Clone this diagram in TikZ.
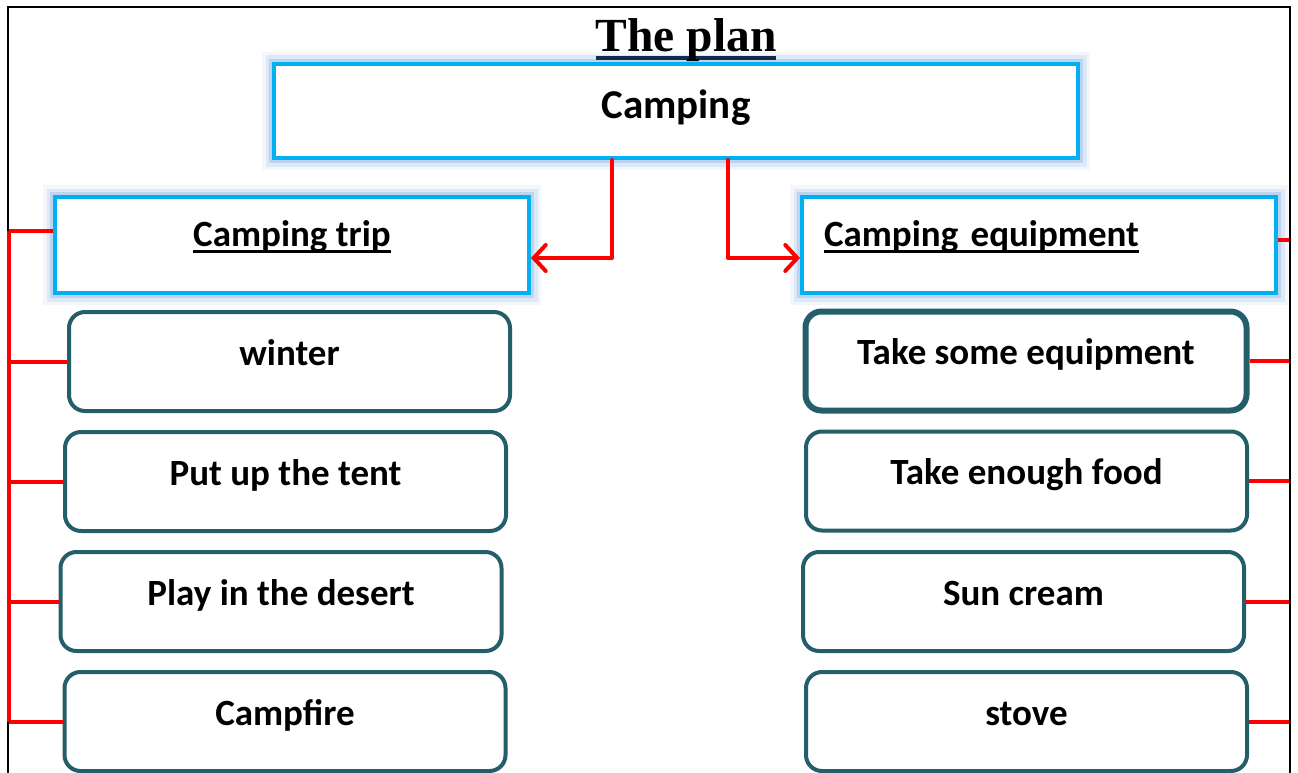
\documentclass[tikz,border=0pt]{standalone}
\usepackage{fontspec}
\setmainfont{Carlito}
\newfontfamily\titlefont{Liberation Serif}
\usetikzlibrary{arrows.meta}
\definecolor{skyline}{HTML}{00B0F0}
\definecolor{glowblue}{HTML}{8EB4E3}
\definecolor{tealline}{HTML}{255E6B}
\definecolor{inkblue}{HTML}{14294D}
\newsavebox{\linedbox}
\newcommand{\headline}[1]{\sbox{\linedbox}{#1}\rlap{\rule[-6.5pt]{\wd\linedbox}{3pt}}\usebox{\linedbox}}
\newcommand{\titleline}[1]{\sbox{\linedbox}{#1}\rlap{\textcolor{inkblue}{\rule[-8pt]{\wd\linedbox}{4pt}}}\usebox{\linedbox}}
\tikzset{
  topicbox/.style={draw=skyline,line width=4pt,fill=white,
    preaction={draw=glowblue,line width=24pt,opacity=0.1},
    preaction={draw=glowblue,line width=17pt,opacity=0.2},
    preaction={draw=glowblue,line width=10pt,opacity=0.4},
    font=\bfseries\fontsize{37}{44}\selectfont,text height=28pt,text depth=26pt},
  leafbox/.style={draw=tealline,line width=4pt,fill=white,rounded corners=16pt,
    minimum width=441pt,minimum height=99pt,
    font=\bfseries\fontsize{37}{44}\selectfont,text height=28pt,text depth=21pt},
  keybox/.style={leafbox,line width=6pt},
  link/.style={red,line width=4pt},
  branch/.style={red,line width=4pt,line cap=round,line join=round,
    -{Straight Barb[length=12pt,width=26pt,line cap=round]}}
}
\begin{document}
\begin{tikzpicture}[x=1pt,y=-1pt]
  \useasboundingbox (0,0) rectangle (1298,773);
  \fill[white] (0,0) rectangle (1298,773);
  \node[topicbox,minimum width=804pt,minimum height=94pt,text depth=16pt,font=\bfseries\fontsize{41}{48}\selectfont,text height=31pt] (camp) at (676,111) {Camping};
  \node[anchor=base,font=\titlefont\bfseries\fontsize{47.5}{52}\selectfont] (title) at (686,52) {\titleline{The plan}};
  \node[topicbox,minimum width=474pt,minimum height=96pt] (trip) at (292,245) {\headline{Camping trip}};
  \node[topicbox,minimum width=474pt,minimum height=96pt,text width=430pt,inner xsep=22pt,align=left] (equip) at (1039,245) {\headline{Camping equipment}};
  \node[leafbox] (winter) at (289.5,361.5) {winter};
  \node[leafbox] (tent) at (285.5,481.5) {Put up the tent};
  \node[leafbox] (desert) at (281,601.5) {Play in the desert};
  \node[leafbox] (campfire) at (285,721.5) {Campfire};
  \node[keybox] (gear) at (1026,361) {Take some equipment};
  \node[leafbox] (food) at (1026.5,481) {Take enough food};
  \node[leafbox] (sun) at (1023.5,601.5) {Sun cream};
  \node[leafbox] (stove) at (1026.5,721.5) {stove};
  \coordinate (railL) at (9,231);
  \coordinate (railR) at (1290,240);
  \begin{scope}[link]
    \draw ([yshift=14pt]trip.west) -- (railL) -- (railL |- campfire.west) -- (campfire.west);
    \draw (winter.west) -- (winter.west -| railL);
    \draw (tent.west) -- (tent.west -| railL);
    \draw (desert.west) -- (desert.west -| railL);
    \draw ([yshift=5pt]equip.east) -- (railR);
    \draw (gear.east) -- (gear.east -| railR);
    \draw (food.east) -- (food.east -| railR);
    \draw (sun.east) -- (sun.east -| railR);
    \draw (stove.east) -- (stove.east -| railR);
  \end{scope}
  \begin{scope}[branch]
    \draw ([xshift=-64pt]camp.south) |- ([yshift=-13pt]trip.east);
    \draw ([xshift=52pt]camp.south) |- ([yshift=-13pt]equip.west);
  \end{scope}
  \draw[line width=2pt] (8,773) -- (8,7) -- (1290,7) -- (1290,773);
  \draw[link] (railL) -- (railL |- campfire.west);
\end{tikzpicture}
\end{document}
